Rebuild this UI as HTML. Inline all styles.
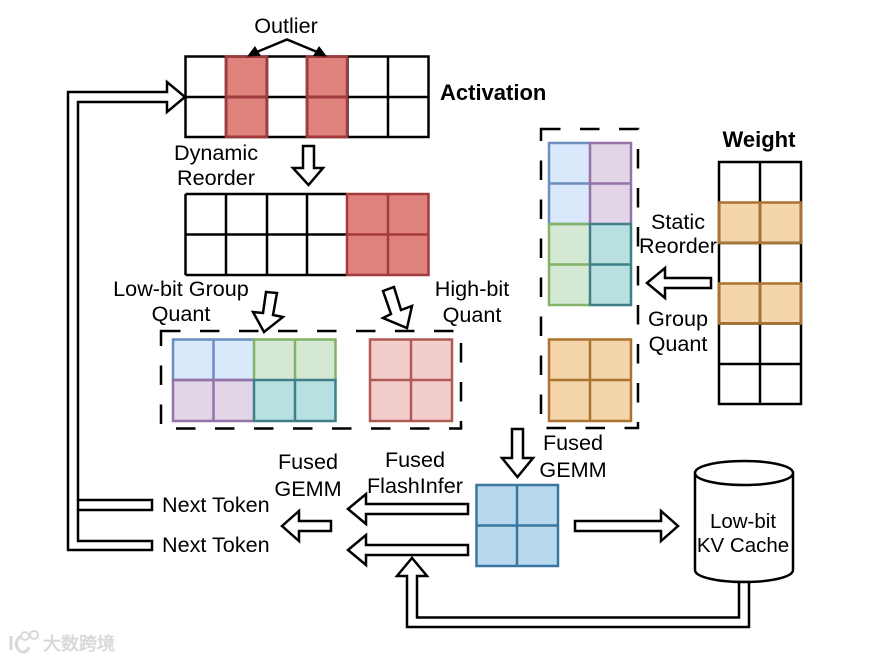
<!DOCTYPE html>
<html>
<head>
<meta charset="utf-8">
<style>
html,body{margin:0;padding:0;background:#fff;width:870px;height:660px;overflow:hidden}
svg{display:block;filter:blur(.35px)}
text{font-family:"Liberation Sans",sans-serif;font-size:21.6px;fill:#000;text-anchor:middle}
.b{font-weight:bold;font-size:22px}
.k{fill:none;stroke:#000;stroke-width:2.5}
.a{fill:#fff;stroke:#000;stroke-width:2.5;stroke-linejoin:miter}
.d{fill:none;stroke:#000;stroke-width:2.5;stroke-dasharray:19.5 19.5}
</style>
</head>
<body>
<svg width="870" height="660" viewBox="0 0 870 660" xmlns="http://www.w3.org/2000/svg">
<!-- Activation fills -->
<rect x="226" y="56" width="41" height="81" fill="#e0827c"/>
<rect x="307" y="56" width="40" height="81" fill="#e0827c"/>
<path class="k" d="M185.500 56.500H428.500V137H185.500ZM185.500 97H428.500M226 56.500V137M267 56.500V137M307 56.500V137M347.500 56.500V137M388 56.500V137"/>
<path fill="none" stroke="#a33a3e" stroke-width="2.5" d="M226 56.500H267V137H226ZM226 97H267M307 56.500H347V137H307ZM307 97H347"/>

<!-- Reordered -->
<rect x="347" y="194" width="81.500" height="81" fill="#e0827c"/>
<path class="k" d="M185.500 194H347M185.500 234.500H347M185.500 275H347M185.500 194V275M226 194V275M267 194V275M307 194V275"/>
<path fill="none" stroke="#a33a3e" stroke-width="2.5" d="M347 194H428.500V275H347ZM347 234.500H428.500M388 194V275"/>

<!-- Low-bit group -->
<rect x="173" y="339.500" width="81" height="40.500" fill="#dae8fc"/>
<rect x="254" y="339.500" width="81.500" height="40.500" fill="#d5e8d4"/>
<rect x="173" y="380" width="81" height="41" fill="#e1d5e7"/>
<rect x="254" y="380" width="81.500" height="41" fill="#b9e0e0"/>
<path fill="none" stroke="#6c8ebf" stroke-width="2.500" d="M254 339.500H173V380H254M213.500 339.500V380"/>
<path fill="none" stroke="#82b366" stroke-width="2.500" d="M254 380V339.500H335.500V380M295 339.500V380"/>
<path fill="none" stroke="#9673a6" stroke-width="2.500" d="M254 380H173V421H254M213.500 380V421"/>
<path fill="none" stroke="#3f7f88" stroke-width="2.500" d="M254 380H335.500V421H254ZM295 380V421"/>

<!-- High-bit group -->
<rect x="370" y="339.500" width="82" height="81.500" fill="#f3cdcb"/>
<path fill="none" stroke="#b05a56" stroke-width="2.500" d="M370 339.500H452V421H370ZM370 380H452M411 339.500V421"/>

<rect class="d" x="161" y="331" width="300" height="97.500"/>

<!-- Right group -->
<rect x="549" y="143" width="41" height="81" fill="#dae8fc"/>
<rect x="590" y="143" width="41" height="81" fill="#e1d5e7"/>
<rect x="549" y="224" width="41" height="81" fill="#d5e8d4"/>
<rect x="590" y="224" width="41" height="81" fill="#b9e0e0"/>
<path fill="none" stroke="#6c8ebf" stroke-width="2.500" d="M590 143H549V224H590M549 183.500H590"/>
<path fill="none" stroke="#9673a6" stroke-width="2.500" d="M590 224V143H631V224M590 183.500H631"/>
<path fill="none" stroke="#82b366" stroke-width="2.500" d="M590 305H549V224H590M549 264.500H590"/>
<path fill="none" stroke="#3f7f88" stroke-width="2.500" d="M590 224H631V305H590ZM590 264.500H631"/>
<rect x="549" y="339.500" width="82" height="81.500" fill="#f5d6aa"/>
<path fill="none" stroke="#ab7230" stroke-width="2.500" d="M549 339.500H631V421H549ZM549 380H631M590 339.500V421"/>

<rect class="d" x="541" y="129" width="97" height="299"/>

<!-- Weight -->
<rect x="719" y="202.500" width="82" height="40.500" fill="#f5d6aa"/>
<rect x="719" y="283.500" width="82" height="40" fill="#f5d6aa"/>
<path class="k" d="M719 162H801V404H719ZM760 162V404M719 243H801M719 323.500H801M719 364H801"/>
<path fill="none" stroke="#ab7230" stroke-width="2.500" d="M719 202.500H801V243H719ZM719 283.500H801V323.500H719ZM760 202.500V243M760 283.500V323.500"/>

<!-- Blue -->
<rect x="476.500" y="485" width="81.500" height="81" fill="#b8d8ed"/>
<path fill="none" stroke="#3a77a0" stroke-width="2.500" d="M476.500 485H558V566H476.500ZM476.500 525.500H558M517 485V566"/>

<!-- Cylinder -->
<path class="a" d="M695 473C695 466 717 461 744 461S793 466 793 473V570C793 577 771 582 744 582S695 577 695 570Z"/>
<path class="k" d="M695 473C695 480 717 485 744 485S793 480 793 473"/>

<!-- Outlier arrows -->
<path fill="none" stroke="#000" stroke-width="2.500" d="M252 54L287 39.500L322 54"/>
<polygon points="247,56.500 255,46 261,56" fill="#000"/>
<polygon points="327,56.500 319,46 313,56" fill="#000"/>

<!-- Hollow arrows -->
<polygon class="a" points="303,146 314,146 314,168 323,168 308.500,185 293,168 303,168"/>
<polygon class="a" points="266,292 277,293 273,315 283,317 264,332 253,312 263,313"/>
<polygon class="a" points="383,291 394,287 401,310 412,306 407,328 383,318 391,314"/>
<polygon class="a" points="647,283 665,268 665,278 711,278 711,288 665,288 665,298"/>
<polygon class="a" points="512,429 523,429 523,458 533,458 517.500,477 502,458 512,458"/>
<polygon class="a" points="348,509 366,494 366,504 468,504 468,514 366,514 366,524"/>
<polygon class="a" points="348,550 366,535 366,545 468,545 468,555 366,555 366,565"/>
<polygon class="a" points="282,526 299,511 299,521 331,521 331,531 299,531 299,541"/>
<polygon class="a" points="575,521 661,521 661,511 678,526 661,541 661,531 575,531"/>
<polygon class="a" points="739,582 739,617.500 417,617.500 417,576 427,576 412,558 397,576 407,576 407,627 749,627 749,582"/>
<polygon class="a" points="167,92 68,92 68,550 152,550 152,541 78,541 78,510 152,510 152,500 78,500 78,102 167,102 167,112 185,97 167,82"/>
<path class="k" d="M78 500V510"/>

<!-- Labels -->
<text x="286" y="33">Outlier</text>
<text class="b" x="440" y="100" style="text-anchor:start">Activation</text>
<text x="216" y="160">Dynamic</text>
<text x="216" y="185">Reorder</text>
<text x="181" y="296">Low-bit Group</text>
<text x="181" y="321">Quant</text>
<text x="472" y="296">High-bit</text>
<text x="472" y="322">Quant</text>
<text class="b" x="759" y="147">Weight</text>
<text x="678" y="229">Static</text>
<text x="678" y="253">Reorder</text>
<text x="678" y="326">Group</text>
<text x="678" y="351">Quant</text>
<text x="573" y="450">Fused</text>
<text x="573" y="477">GEMM</text>
<text x="415" y="467">Fused</text>
<text x="415" y="493">FlashInfer</text>
<text x="308" y="469">Fused</text>
<text x="308" y="496">GEMM</text>
<text x="162" y="512" style="text-anchor:start">Next Token</text>
<text x="162" y="552" style="text-anchor:start">Next Token</text>
<text x="743" y="528" style="font-size:20.500px">Low-bit</text>
<text x="743" y="552" style="font-size:20.500px">KV Cache</text>

<!-- Watermark -->
<g fill="none" stroke="#d8d8d8" stroke-width="3">
<path d="M11 636V650M21 636C15 640 15 647 20 651C25 654 28 650 29 647"/>
<circle cx="25" cy="636" r="4" stroke-width="2"/>
<circle cx="34" cy="635" r="4" stroke-width="2"/>
</g>
<text x="43" y="650" style="text-anchor:start;font-family:'Liberation Sans','Noto Sans CJK SC',sans-serif;font-size:18px;fill:#d0d0d0;stroke:#dedede;stroke-width:.8">大数跨境</text>
</svg>
</body>
</html>
